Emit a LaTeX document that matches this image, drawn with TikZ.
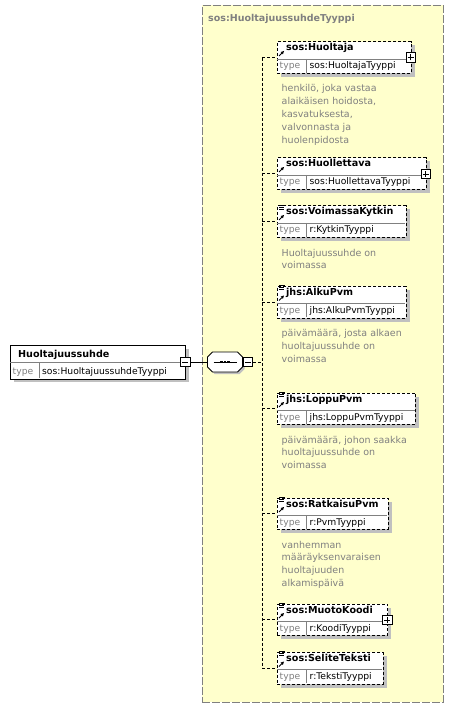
\documentclass[tikz,border=0pt]{standalone}
\usepackage{fontspec}
\setmainfont{DejaVu Sans}
\definecolor{ybg}{RGB}{255,255,204}
\definecolor{gtxt}{RGB}{128,128,128}
\definecolor{shad}{RGB}{192,192,192}
\tikzset{
  nametext/.style={font=\fontsize{9.6}{12.8}\selectfont\bfseries, anchor=base west, inner sep=0},
  titletext/.style={font=\fontsize{9.5}{12.8}\selectfont\bfseries, text=gtxt, anchor=base west, inner sep=0},
  typelbl/.style={font=\fontsize{9.2}{12.8}\selectfont, text=gtxt, anchor=base west, inner sep=0},
  typetext/.style={font=\fontsize{9.2}{12.8}\selectfont, anchor=base west, inner sep=0},
  desctext/.style={font=\fontsize{9.5}{12.8}\selectfont, text=gtxt, anchor=base west, inner sep=0},
  elembox/.style={draw=black, fill=white, line width=0.8pt, dash pattern=on 3pt off 2pt, inner sep=0, anchor=north west},
  rootbox/.style={draw=black, fill=white, line width=0.8pt, inner sep=0, anchor=north west},
  sepline/.style={draw=gtxt, line width=0.7pt},
  conn/.style={draw=black, line width=0.8pt, dash pattern=on 3pt off 2pt},
  solidconn/.style={draw=black, line width=0.8pt},
  pmbox/.style={draw=black, fill=white, line width=0.8pt, minimum size=9.5pt, inner sep=0},
  iconline/.style={draw=black, line width=0.8pt},
}
\newcommand\elemx[5]{%
  \fill[shad] (281,{#2-9+4}) rectangle ({#3+4},{#2+22.5+4});
  \node[elembox, minimum width={#3-277}, minimum height=31.5] (#1) at (277,{#2-9}) {};
  \draw[sepline] (277.4,{#2+8.5}) -- ({#3-0.4},{#2+8.5});
  \draw[sepline] (306.5,{#2+8.5}) -- (306.5,{#2+22.1});
  \node[nametext] (#1-n) at (286,{#2+0.5}) {#4};
  \node[typelbl] (#1-tl) at (279.5,{#2+18.5}) {type};
  \node[typetext] (#1-tt) at (309.5,{#2+18.5}) {#5};
  \draw[conn] (spine |- #1.west) -- (#1.west);
  \draw[iconline] (279,{#2+5.5}) -- (281.8,{#2+2.7});
  \fill (284,{#2+0.5}) -- (280.6,{#2+1.6}) -- (282.9,{#2+3.9}) -- cycle;
}
\newcommand\simpleicon[1]{%
  \draw[iconline] (279,{#1-9.5}) -- (284.5,{#1-9.5});
  \draw[iconline] (279,{#1-7.5}) -- (284,{#1-7.5});
  \draw[iconline] (279,{#1-5.5}) -- (284,{#1-5.5});
}
\newcommand\plusat[3]{%
  \node[pmbox] (#1) at (#2,#3) {};
  \draw[line width=0.8pt] ([xshift=-3pt]#1.center) -- ([xshift=3pt]#1.center);
  \draw[line width=0.8pt] ([yshift=-3pt]#1.center) -- ([yshift=3pt]#1.center);
}
\newcommand\minusat[3]{%
  \node[pmbox] (#1) at (#2,#3) {};
  \draw[line width=0.8pt] ([xshift=-3pt]#1.center) -- ([xshift=3pt]#1.center);
}
\newcommand\descx[3]{%
  \foreach \t [count=\i] in {#3} {
    \node[desctext] (#1-d\i) at (281.5,{#2+41.5+12.8*(\i-1)}) {\t};
  }
}
\begin{document}
\begin{tikzpicture}[x=1pt,y=-1pt]
\useasboundingbox (0,0) rectangle (454,708);
\fill[white] (0,0) rectangle (454,708);
% complex type area
\node[draw=gtxt, line width=1pt, dash pattern=on 8pt off 2pt, fill=ybg, minimum width=240.8, minimum height=696.7, inner sep=0, anchor=north west] (ctype) at (201.7,5) {};
\node[titletext] (ctitle) at (208,22) {sos:HuoltajuussuhdeTyyppi};
\coordinate (spine) at (262.3,0);

% root element
\fill[shad] (14,348.5) rectangle (189,382);
\node[rootbox, minimum width=175, minimum height=34] (root) at (10,344.5) {};
\draw[sepline] (10.4,362.5) -- (184.6,362.5);
\draw[sepline] (39,362.5) -- (39,378.1);
\node[nametext] (root-n) at (18,357.5) {Huoltajuussuhde};
\node[typelbl] (root-tl) at (12.5,374.5) {type};
\node[typetext] (root-tt) at (42,374.5) {sos:HuoltajuussuhdeTyyppi};

% sequence compositor
\fill[shad] (209.5,359) -- (214.5,354) -- (239.5,354) -- (244.5,359) -- (244.5,369) -- (239.5,374) -- (214.5,374) -- (209.5,369) -- cycle;
\draw[fill=white, line width=0.8pt] (207.5,357) -- (212.5,352) -- (237.5,352) -- (242.5,357) -- (242.5,367) -- (237.5,372) -- (212.5,372) -- (207.5,367) -- cycle;
\node[minimum width=35, minimum height=20, inner sep=0] (seq) at (225,362) {};
\draw[line width=0.8pt] (213.5,362) -- (236.5,362);
\foreach \xx in {221.5,225,228.5} { \fill (\xx-1.2,360.8) rectangle (\xx+1.2,363.2); }

\minusat{rootm}{185.3}{362}
\draw[solidconn] (rootm.east) -- (seq.west);
\minusat{seqm}{248}{362}
\draw[conn] (seqm.east) -- (spine |- seqm.east);

% child elements
\elemx{huoltaja}{50.5}{410.7}{sos:Huoltaja}{sos:HuoltajaTyyppi}
\plusat{huoltajap}{410.7}{57.5}
\descx{huoltaja}{50.5}{{henkilö, joka vastaa},{alaikäisen hoidosta,},{kasvatuksesta,},{valvonnasta ja},{huolenpidosta}}

\elemx{huollettava}{166.5}{425.7}{sos:Huollettava}{sos:HuollettavaTyyppi}
\plusat{huollettavap}{425.7}{174}

\elemx{voimassa}{214.5}{405.7}{sos:VoimassaKytkin}{r:KytkinTyyppi}
\simpleicon{214.5}
\descx{voimassa}{214.5}{{Huoltajuussuhde on},{voimassa}}

\elemx{alku}{295}{405.7}{jhs:AlkuPvm}{jhs:AlkuPvmTyyppi}
\simpleicon{295}
\descx{alku}{295}{{päivämäärä, josta alkaen},{huoltajuussuhde on},{voimassa}}

\elemx{loppu}{401.5}{415}{jhs:LoppuPvm}{jhs:LoppuPvmTyyppi}
\simpleicon{401.5}
\descx{loppu}{401.5}{{päivämäärä, johon saakka},{huoltajuussuhde on},{voimassa}}

\elemx{ratkaisu}{506.5}{387.7}{sos:RatkaisuPvm}{r:PvmTyyppi}
\simpleicon{506.5}
\descx{ratkaisu}{506.5}{{vanhemman},{määräyksenvaraisen},{huoltajuuden},{alkamispäivä}}

\elemx{muoto}{612.5}{387.3}{sos:MuotoKoodi}{r:KoodiTyyppi}
\simpleicon{612.5}
\plusat{muotop}{387.3}{620}

\elemx{selite}{661}{382.7}{sos:SeliteTeksti}{r:TekstiTyyppi}
\simpleicon{661}

% spine
\draw[conn] (spine |- huoltaja.west) -- (spine |- selite.west);
\end{tikzpicture}
\end{document}
